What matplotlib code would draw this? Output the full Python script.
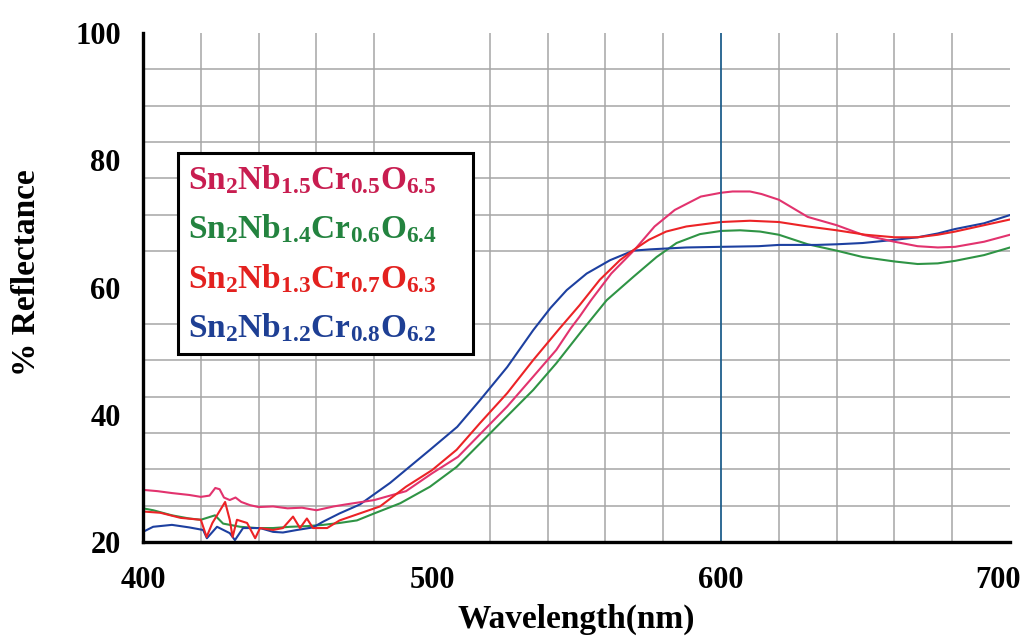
import matplotlib
matplotlib.use("Agg")
import matplotlib.pyplot as plt
import matplotlib.transforms as mtransforms
from matplotlib.lines import Line2D

plt.rcParams["font.family"] = ["Liberation Serif", "DejaVu Serif"]
plt.rcParams["font.weight"] = "bold"
plt.rcParams["mathtext.fontset"] = "custom"
plt.rcParams["mathtext.rm"] = "Liberation Serif:bold"
plt.rcParams["mathtext.it"] = "Liberation Serif:bold"
plt.rcParams["mathtext.bf"] = "Liberation Serif:bold"

# Diffuse reflectance spectra (wavelength in nm, reflectance in %)
nb15_wl = [400, 405, 410, 416, 420, 423, 425, 426.5, 428, 430, 432, 434, 437, 440, 445, 450,
           455, 460, 463, 466, 470, 480, 491, 500, 509, 518, 526, 535, 543, 548, 551, 555,
           562, 570, 577, 584, 593, 600, 604, 610, 614, 620, 630, 640, 649, 660, 668, 675,
           681, 691, 700]
nb15_r = [28.2, 28.0, 27.7, 27.4, 27.1, 27.3, 28.5, 28.3, 27.0, 26.6, 27.0, 26.3, 25.8, 25.5,
          25.6, 25.3, 25.4, 25.0, 25.3, 25.6, 25.9, 26.6, 28.0, 30.8, 33.4, 37.6, 41.3, 46.0,
          50.2, 53.6, 55.4, 58.0, 62.2, 65.9, 69.6, 72.2, 74.3, 74.9, 75.1, 75.1, 74.7, 73.8,
          71.1, 69.8, 68.3, 67.2, 66.5, 66.3, 66.4, 67.2, 68.3]

nb14_wl = [400, 403.5, 410, 416, 420, 424.9, 427.7, 433.6, 439.4, 445, 451, 456.7, 462.3, 468,
           474, 480, 489, 499.3, 508.5, 517.7, 525.8, 535, 543, 552, 560.4, 569.7, 577.7,
           584.6, 592.7, 600, 606.6, 613.5, 620, 630, 640, 649, 660, 668, 675, 681, 691, 700]
nb14_r = [25.3, 25.0, 24.2, 23.7, 23.5, 24.2, 22.9, 22.4, 22.2, 22.2, 22.4, 22.5, 22.7, 23.0,
          23.4, 24.5, 26.1, 28.7, 31.8, 36.0, 39.7, 43.9, 48.1, 53.3, 58.0, 61.7, 64.8, 67.0,
          68.4, 68.9, 69.0, 68.8, 68.3, 66.8, 65.8, 64.8, 64.1, 63.7, 63.8, 64.2, 65.1, 66.3]

nb13_wl = [400, 406, 413, 420, 422, 424, 426, 428.4, 430, 431, 432.5, 436, 438.8, 440.5, 445,
           448.4, 451.9, 454.3, 456.7, 458.8, 463.7, 468, 475, 482, 491, 500, 508.5, 516.6,
           526, 535, 544, 551, 558, 565, 570, 575, 581, 588, 600, 610, 620, 630, 640, 650,
           660, 668, 675, 681, 691, 700]
nb13_r = [24.8, 24.6, 23.8, 23.5, 20.8, 23.0, 24.5, 26.3, 23.5, 20.8, 23.5, 23.0, 20.6, 22.2,
          21.9, 22.2, 24.0, 22.2, 23.7, 22.2, 22.2, 23.4, 24.5, 25.6, 28.7, 31.3, 34.5, 38.7,
          43.4, 48.6, 53.5, 57.2, 61.2, 64.3, 66.0, 67.5, 68.8, 69.6, 70.3, 70.5, 70.3, 69.6,
          69.0, 68.3, 67.9, 67.9, 68.3, 68.8, 69.8, 70.7]

nb12_wl = [400, 403.5, 410, 416, 420.8, 422.1, 425.6, 430, 431.8, 434.6, 440.5, 445, 448.4,
           453.3, 458.8, 462.3, 468, 475, 485.5, 499.3, 508.7, 516.6, 526, 535, 541, 546.6,
           553.5, 561.6, 569.6, 575.4, 588, 600, 613, 620, 633, 640, 649, 660, 668, 675, 681,
           691, 700]
nb12_r = [21.6, 22.4, 22.7, 22.3, 21.9, 20.6, 22.4, 21.4, 20.3, 22.2, 22.2, 21.6, 21.5, 21.9,
          22.3, 23.2, 24.5, 25.9, 29.3, 34.5, 38.1, 42.3, 47.5, 53.3, 56.8, 59.6, 62.2, 64.3,
          65.8, 66.0, 66.3, 66.4, 66.5, 66.7, 66.7, 66.8, 67.0, 67.5, 67.9, 68.5, 69.2, 70.1,
          71.4]

labels = [r"$\mathrm{Sn_2Nb_{1.5}Cr_{0.5}O_{6.5}}$",
          r"$\mathrm{Sn_2Nb_{1.4}Cr_{0.6}O_{6.4}}$",
          r"$\mathrm{Sn_2Nb_{1.3}Cr_{0.7}O_{6.3}}$",
          r"$\mathrm{Sn_2Nb_{1.2}Cr_{0.8}O_{6.2}}$"]
line_colors = ["#e2336e", "#2f9445", "#ec2326", "#1d40a0"]
text_colors = ["#c81d50", "#23833f", "#e3211f", "#1e3f94"]

x_ticks = [400, 500, 600, 700]
y_ticks = [20, 40, 60, 80, 100]
cursor_wl = 600

fig = plt.figure(figsize=(10.29, 6.43), dpi=100)
ax = fig.add_axes([0.139, 0.157, 0.8426, 0.7916])

# fine grid: 20 nm steps, 14 divisions in y
ax.set_xticks(range(400, 701, 20), minor=True)
ax.set_yticks([20 + 80 * k / 14 for k in range(15)], minor=True)
ax.grid(which="minor", color="#a6a6a6", linewidth=1.1, zorder=0)
ax.grid(which="major", visible=False)
ax.tick_params(which="both", length=0)

series = [(nb15_wl, nb15_r), (nb14_wl, nb14_r), (nb13_wl, nb13_r), (nb12_wl, nb12_r)]
order = [1, 3, 0, 2]
for i in order:
    wl, r = series[i]
    ax.plot(wl, r, color=line_colors[i], linewidth=1.5, zorder=3)

ax.axvline(cursor_wl, color="#1f5f8c", linewidth=1.3, zorder=4)

ax.set_xlim(400, 700)
ax.set_ylim(20, 100)
ax.set_xticks(x_ticks)
ax.set_yticks(y_ticks)
ax.tick_params(axis="x", which="major", labelsize=22, pad=17)
ax.tick_params(axis="y", which="major", labelsize=22, pad=16)
for lab in ax.get_xticklabels() + ax.get_yticklabels():
    lab.set_fontweight("bold")

# keep the right-most wavelength label inside the figure
last = ax.get_xticklabels()[-1]
last.set_transform(last.get_transform() +
                   mtransforms.ScaledTranslation(-12 / 100, 0, fig.dpi_scale_trans))

for side in ("top", "right"):
    ax.spines[side].set_visible(False)
for side in ("left", "bottom"):
    ax.spines[side].set_linewidth(2.4)
    ax.spines[side].set_color("black")
    ax.spines[side].set_zorder(5)

ax.set_xlabel("Wavelength(nm)", fontsize=24, fontweight="bold")
ax.set_ylabel("% Reflectance", fontsize=24, fontweight="bold")
ax.xaxis.set_label_coords(0.5, -0.122)
ax.yaxis.set_label_coords(-0.116, 0.53)

handles = [Line2D([], [], linestyle="none") for _ in labels]
leg = ax.legend(handles, labels, loc="upper left",
                bbox_to_anchor=(0.0404, 0.371, 0.3403, 0.393), mode="expand",
                borderaxespad=0, handlelength=0, handletextpad=0, fontsize=24,
                labelspacing=0.5, borderpad=0.3, fancybox=False, framealpha=1)
leg.get_frame().set_edgecolor("black")
leg.get_frame().set_linewidth(2.2)
leg.set_zorder(6)
for txt, c in zip(leg.get_texts(), text_colors):
    txt.set_color(c)

fig.savefig("out.png", dpi=100, facecolor="white")
